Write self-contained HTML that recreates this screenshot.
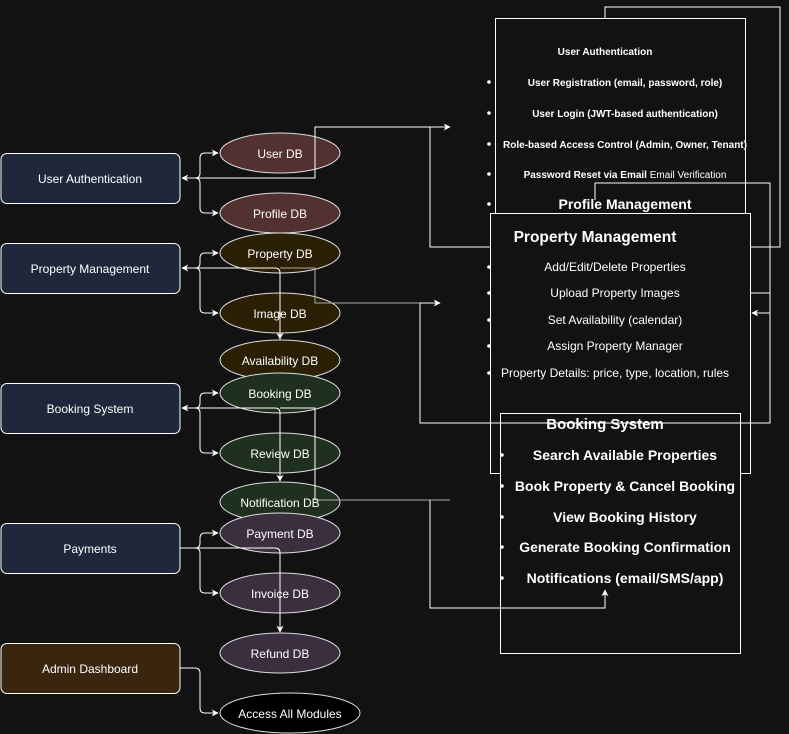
<!DOCTYPE html>
<html><head><meta charset="utf-8"><style>
html,body{margin:0;padding:0;background:#121212;}
svg{display:block;font-family:"Liberation Sans",Arial,sans-serif;}
</style></head><body>
<svg width="789" height="734" viewBox="0 0 789 734" xmlns="http://www.w3.org/2000/svg">
<defs>
<marker id="a" viewBox="0 0 10 10" refX="9" refY="5" markerWidth="7" markerHeight="7" orient="auto-start-reverse" markerUnits="userSpaceOnUse"><path d="M0,0 L10,5 L0,10 L3,5 z" fill="#fff"/></marker>
</defs>
<rect width="789" height="734" fill="#121212"/>

<g fill="none" stroke="#fff" stroke-width="1">
<path d="M605,27 V7 H780 V247 H430 V127 H450" marker-end="url(#a)"/>
<rect x="495.5" y="18.5" width="250" height="300" fill="#121212"/>
<path d="M595,200 V183 H770 V423 H420 V303 H440" marker-end="url(#a)"/>
<path d="M750,293 H770 V313 H752" marker-end="url(#a)"/>
</g>
<g fill="#fff" text-anchor="middle">
<text x="605" y="55" font-size="10" font-weight="bold">User Authentication</text>
<text x="625" y="86" font-size="10" font-weight="bold">User Registration (email, password, role)</text>
<text x="625" y="117" font-size="10" font-weight="bold">User Login (JWT-based authentication)</text>
<text x="625" y="148" font-size="10" font-weight="bold">Role-based Access Control (Admin, Owner, Tenant)</text>
<text x="625" y="178" font-size="10" font-weight="bold">Password Reset via Email <tspan font-weight="normal">Email Verification</tspan></text>
<text x="625" y="209" font-size="14" font-weight="bold">Profile Management</text>
</g>
<g fill="#fff"><circle cx="489" cy="82" r="1.8"/><circle cx="489" cy="113" r="1.8"/><circle cx="489" cy="144" r="1.8"/><circle cx="489" cy="174" r="1.8"/><circle cx="489" cy="204" r="1.8"/></g>

<rect x="490.5" y="213.5" width="260" height="260" fill="#121212" stroke="#fff"/>
<g fill="#fff" text-anchor="middle" font-size="12">
<text x="595" y="242" font-size="15.5" font-weight="bold">Property Management</text>
<text x="615" y="271">Add/Edit/Delete Properties</text>
<text x="615" y="297">Upload Property Images</text>
<text x="615" y="324">Set Availability (calendar)</text>
<text x="615" y="350">Assign Property Manager</text>
<text x="615" y="377">Property Details: price, type, location, rules</text>
</g>
<g fill="#fff"><circle cx="489" cy="267" r="1.8"/><circle cx="489" cy="293" r="1.8"/><circle cx="489" cy="320" r="1.8"/><circle cx="489" cy="346" r="1.8"/><circle cx="489" cy="373" r="1.8"/></g>
<path d="M770,293 V423" fill="none" stroke="#fff"/>

<rect x="500.5" y="413.5" width="240" height="240" fill="#121212" stroke="#fff"/>
<path d="M770,423 H420" fill="none" stroke="#fff"/>
<g fill="#fff" text-anchor="middle" font-size="14" font-weight="bold">
<text x="605" y="429" font-size="15">Booking System</text>
<text x="625" y="460">Search Available Properties</text>
<text x="625" y="491">Book Property &amp; Cancel Booking</text>
<text x="625" y="522">View Booking History</text>
<text x="625" y="552">Generate Booking Confirmation</text>
<text x="625" y="583">Notifications (email/SMS/app)</text>
</g>
<g fill="#fff"><circle cx="502" cy="455" r="1.8"/><circle cx="502" cy="486" r="1.8"/><circle cx="502" cy="517" r="1.8"/><circle cx="502" cy="547" r="1.8"/><circle cx="502" cy="578" r="1.8"/></g>

<g stroke="#fff" stroke-width="1">
<rect x="1" y="153.5" width="179" height="50" rx="6" fill="#1e283a"/>
<rect x="1" y="243.5" width="179" height="50" rx="6" fill="#1e283a"/>
<rect x="1" y="383.5" width="179" height="50" rx="6" fill="#1e283a"/>
<rect x="1" y="523.5" width="179" height="50" rx="6" fill="#1e283a"/>
<rect x="1" y="643.5" width="179" height="50" rx="6" fill="#3a250f"/>
</g>
<g fill="#fff" font-size="12" text-anchor="middle">
<text x="90" y="183">User Authentication</text>
<text x="90" y="273">Property Management</text>
<text x="90" y="413">Booking System</text>
<text x="90" y="553">Payments</text>
<text x="90" y="673">Admin Dashboard</text>
</g>

<g stroke="#ddd" stroke-width="1">
<ellipse cx="280" cy="153" rx="60" ry="20" fill="#533131"/>
<ellipse cx="280" cy="213" rx="60" ry="20" fill="#533131"/>
<ellipse cx="280" cy="253" rx="60" ry="20" fill="#2b1f06"/>
<ellipse cx="280" cy="313" rx="60" ry="20" fill="#2b1f06"/>
<ellipse cx="280" cy="360" rx="60" ry="20" fill="#2b1f06"/>
<ellipse cx="280" cy="393" rx="60" ry="20" fill="#20301f"/>
<ellipse cx="280" cy="453" rx="60" ry="20" fill="#20301f"/>
<ellipse cx="280" cy="502" rx="60" ry="20" fill="#20301f"/>
<ellipse cx="280" cy="533" rx="60" ry="20" fill="#3a2e3f"/>
<ellipse cx="280" cy="593" rx="60" ry="20" fill="#3a2e3f"/>
<ellipse cx="280" cy="653" rx="60" ry="20" fill="#3a2e3f"/>
<ellipse cx="290" cy="713" rx="70" ry="20" fill="#000"/>
</g>
<g fill="#fff" font-size="12" text-anchor="middle">
<text x="280" y="158">User DB</text>
<text x="280" y="218">Profile DB</text>
<text x="280" y="258">Property DB</text>
<text x="280" y="318">Image DB</text>
<text x="280" y="365">Availability DB</text>
<text x="280" y="398">Booking DB</text>
<text x="280" y="458">Review DB</text>
<text x="280" y="507">Notification DB</text>
<text x="280" y="538">Payment DB</text>
<text x="280" y="598">Invoice DB</text>
<text x="280" y="658">Refund DB</text>
<text x="290" y="718">Access All Modules</text>
</g>

<g fill="none" stroke="#fff" stroke-width="1">
<path d="M182,178 H195 Q200,178 200,173 V158 Q200,153 205,153 H218" marker-start="url(#a)" marker-end="url(#a)"/>
<path d="M195,178 Q200,178 200,183 V208 Q200,213 205,213 H218" marker-end="url(#a)"/>
<path d="M195,178 H315 V127 H430"/>
<path d="M182,268 H195 Q200,268 200,263 V258 Q200,253 205,253 H218" marker-start="url(#a)" marker-end="url(#a)"/>
<path d="M195,268 Q200,268 200,273 V308 Q200,313 205,313 H218" marker-end="url(#a)"/>
<path d="M195,268 H275 Q280,268 280,273 V339" marker-end="url(#a)"/>
<path d="M280,268 H315 V303 H420" stroke="#aaa"/>
<path d="M182,408 H195 Q200,408 200,403 V398 Q200,393 205,393 H218" marker-start="url(#a)" marker-end="url(#a)"/>
<path d="M195,408 Q200,408 200,413 V448 Q200,453 205,453 H218" marker-end="url(#a)"/>
<path d="M195,408 H275 Q280,408 280,413 V481" marker-end="url(#a)"/>
<path d="M280,408 H315 V500"/>
<path d="M315,500 H450" stroke="#aaa"/>
<path d="M430,500 V608 H605 V590" marker-end="url(#a)"/>
<path d="M180,548 H195 Q200,548 200,543 V538 Q200,533 205,533 H218" marker-end="url(#a)"/>
<path d="M195,548 Q200,548 200,553 V588 Q200,593 205,593 H218" marker-end="url(#a)"/>
<path d="M195,548 H275 Q280,548 280,553 V632" marker-end="url(#a)"/>
<path d="M180,668 H195 Q200,668 200,673 V708 Q200,713 205,713 H218" marker-end="url(#a)"/>
</g>
</svg>
</body></html>
